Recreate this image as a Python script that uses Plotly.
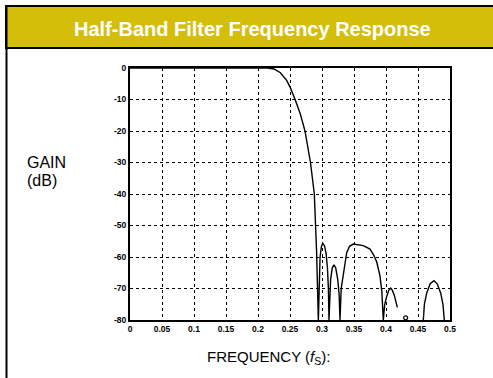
import plotly.graph_objects as go

# ---- data ----
freq_main = [0, 0.05, 0.1, 0.15, 0.2, 0.215, 0.225, 0.235, 0.245, 0.25, 0.258, 0.266, 0.2734, 0.282, 0.288, 0.2915, 0.2943,
             0.2955, 0.297, 0.299, 0.3011, 0.304, 0.3065, 0.3085, 0.3100, 0.3109,
             0.3118, 0.3135, 0.316, 0.3188, 0.3215, 0.3245, 0.3268, 0.3281,
             0.3300, 0.3333, 0.3385, 0.343, 0.349, 0.3646, 0.375, 0.381, 0.3854, 0.3906, 0.3935, 0.3958,
             0.398, 0.401, 0.4045, 0.4073, 0.410, 0.413, 0.4177]
gain_main = [0, 0, 0, 0, 0, 0, -0.3, -1.5, -4, -6, -10, -14.5, -20, -30, -40, -58, -80,
             -66, -60, -56.8, -55.6, -56.5, -59, -63.5, -70, -80,
             -72, -67, -63.5, -62.5, -63.5, -67, -72, -80,
             -70, -65, -58.7, -56.6, -55.9, -56.4, -57.5, -59.5, -61.5, -66, -71, -80,
             -75, -72.6, -70.5, -69.9, -70.6, -72.2, -76]
freq_dot = [0.4307]
gain_dot = [-79.3]
freq_lobe5 = [0.4583, 0.4600, 0.4635, 0.469, 0.475, 0.480, 0.4855, 0.4890, 0.4911]
gain_lobe5 = [-80, -75, -71.5, -68.5, -67.5, -68.5, -71.5, -75, -80]

x_ticks = [0, 0.05, 0.1, 0.15, 0.2, 0.25, 0.3, 0.35, 0.4, 0.45, 0.5]
x_tick_labels = ["0", "0.05", "0.1", "0.15", "0.2", "0.25", "0.3", "0.35", "0.4", "0.45", "0.5"]
y_ticks = [0, -10, -20, -30, -40, -50, -60, -70, -80]
y_tick_labels = ["0", "-10", "-20", "-30", "-40", "-50", "-60", "-70", "-80"]

title_text = "Half-Band Filter Frequency Response"
ylabel_line1 = "GAIN"
ylabel_line2 = "(dB)"
xlabel_text = "FREQUENCY (<i>f</i><sub>S</sub>):"

# ---- layout geometry (pixels) ----
W, H = 493, 378
L, R, T, B = 130, 450, 68, 320


def px(x):
    return (x - L) / (R - L)


def py(y):
    return (B - y) / (B - T)


fig = go.Figure()
line_style = dict(color="black", width=1.4)
fig.add_trace(go.Scatter(x=freq_main, y=gain_main, mode="lines", line=line_style,
                         hoverinfo="skip", showlegend=False))
fig.add_trace(go.Scatter(x=freq_lobe5, y=gain_lobe5, mode="lines", line=line_style,
                         hoverinfo="skip", showlegend=False))
fig.add_trace(go.Scatter(x=freq_dot, y=gain_dot, mode="markers",
                         marker=dict(symbol="circle-open", size=4, color="black", line=dict(width=1.2)),
                         hoverinfo="skip", showlegend=False, cliponaxis=False))

tickfont = dict(family="Liberation Sans, Arial", size=8.5, color="black", weight="bold")
fig.update_xaxes(range=[0, 0.5], tickvals=x_ticks, ticktext=x_tick_labels,
                 showgrid=True, gridcolor="black", gridwidth=1, griddash="dot",
                 showline=True, linecolor="black", linewidth=2, mirror=True,
                 ticks="", tickfont=tickfont, zeroline=False)
fig.update_yaxes(range=[-80, 0], tickvals=y_ticks, ticktext=y_tick_labels,
                 showgrid=True, gridcolor="black", gridwidth=1, griddash="dot",
                 showline=True, linecolor="black", linewidth=2, mirror=True,
                 ticks="", tickfont=tickfont, zeroline=False)

shapes = [
    # title bar
    dict(type="rect", xref="paper", yref="paper", x0=px(6), x1=px(W + 5), y0=py(48), y1=py(6),
         fillcolor="#D5BE0A", line=dict(color="black", width=2), layer="below"),
    # left frame line
    dict(type="line", xref="paper", yref="paper", x0=px(6.5), x1=px(6.5), y0=py(6), y1=py(H + 5),
         line=dict(color="black", width=2)),
]

label_font = dict(family="Liberation Sans, Arial", size=16, color="black")
annotations = [
    dict(text=f"<b>{title_text}</b>", xref="paper", yref="paper", x=px(252), y=py(29),
         xanchor="center", yanchor="middle", showarrow=False,
         font=dict(family="Liberation Sans, Arial", size=20, color="white")),
    dict(text=ylabel_line1, xref="paper", yref="paper", x=px(25), y=py(162),
         xanchor="left", yanchor="middle", showarrow=False, font=label_font),
    dict(text=ylabel_line2, xref="paper", yref="paper", x=px(25), y=py(180),
         xanchor="left", yanchor="middle", showarrow=False, font=label_font),
    dict(text=xlabel_text, xref="paper", yref="paper", x=px(268), y=py(357),
         xanchor="center", yanchor="middle", showarrow=False,
         font=dict(family="Liberation Sans, Arial", size=15, color="black")),
]

fig.update_layout(width=W, height=H, autosize=False,
                  margin=dict(l=L, r=W - R, t=T, b=H - B, pad=0),
                  paper_bgcolor="white", plot_bgcolor="white",
                  shapes=shapes, annotations=annotations, showlegend=False)

fig.write_html("out.html", config={"displayModeBar": False},
               post_script="document.body.style.margin='0';document.body.style.overflow='hidden';")
